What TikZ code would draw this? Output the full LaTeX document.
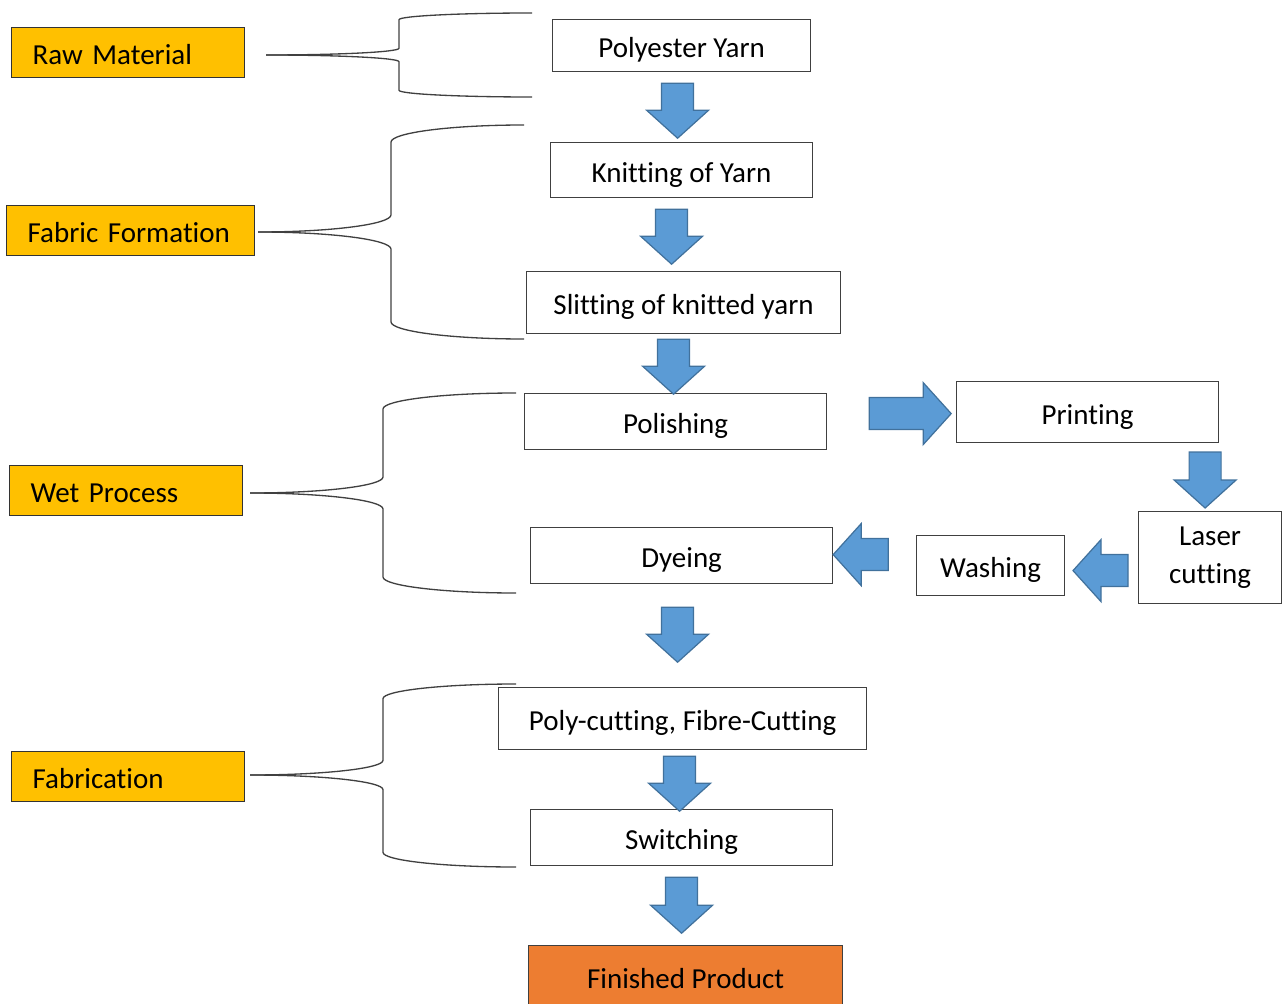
\documentclass[tikz,border=0pt]{standalone}
\usepackage{fontspec}
\setmainfont{Carlito}[Ligatures=CommonOff]
\usetikzlibrary{calc}

\definecolor{stageyellow}{HTML}{FFC000}
\definecolor{finalorange}{HTML}{ED7D31}
\definecolor{arrowblue}{HTML}{5B9BD5}
\definecolor{arrowedge}{HTML}{41719C}

\tikzset{
  oneline/.style={text height=0.48cm, text depth=0pt},
  stage/.style={draw=black!80, fill=stageyellow, line width=0.7pt, anchor=north west, oneline,
    minimum height=1cm, inner xsep=0.42cm, inner ysep=0pt, align=left, text width=#1},
  procbox/.style={draw=black!75, line width=0.7pt, anchor=north west, inner sep=0pt, align=center},
  blockarrow/.style={draw=arrowedge, fill=arrowblue, line width=0.7pt, line join=miter},
  bracket/.style={draw=black!75, line width=0.75pt},
}

% block arrow: #1 tail, #2 angle, #3 length
\newcommand{\barrow}[3]{%
  \draw[blockarrow, shift={#1}, rotate=#2] (0,-16) -- ({#3-28},-16) -- ({#3-28},-31) -- (#3,0)
    -- ({#3-28},31) -- ({#3-28},16) -- (0,16) -- cycle;}

% group bracket: #1 start x, #2 mid y, #3 spine x, #4 top y, #5 bottom y
\newcommand{\grpbrace}[5]{%
  \pgfmathsetmacro{\brh}{0.08*(#5-#4)}
  \draw[bracket] (#1,#2) .. controls ({#1+0.55*(#3-#1)},#2) and (#3,{#2-0.45*\brh}) .. (#3,{#2-\brh})
    -- (#3,{#4+\brh}) .. controls (#3,{#4+0.45*\brh}) and ({#3+60},#4) .. ({#3+133},#4);
  \draw[bracket] (#1,#2) .. controls ({#1+0.55*(#3-#1)},#2) and (#3,{#2+0.45*\brh}) .. (#3,{#2+\brh})
    -- (#3,{#5-\brh}) .. controls (#3,{#5-0.45*\brh}) and ({#3+60},#5) .. ({#3+133},#5);}

\begin{document}
\begin{tikzpicture}[x=0.02cm, y=-0.02cm, font=\fontsize{16.5}{21.5}\selectfont]
    \useasboundingbox (0,0) rectangle (1283,1003);

    % Stages
    \node[stage=3.82cm] (raw) at (11,27) {Raw Material};
    \node[stage=4.12cm] (fabric) at (6,205) {Fabric Formation};
    \node[stage=3.82cm] (wet) at (9,465) {Wet Process};
    \node[stage=3.82cm] (fabr) at (11,751) {Fabrication};

    % Brackets
    \grpbrace{266}{55}{399}{13}{97}
    \grpbrace{258}{232}{391}{125}{339}
    \grpbrace{250}{493}{383}{393}{593}
    \grpbrace{250}{775}{383}{684}{867}

    % Process steps
    \node[procbox, oneline, minimum width=5.16cm, minimum height=1.04cm] (yarn) at (552,19) {Polyester Yarn};
    \node[procbox, oneline, minimum width=5.24cm, minimum height=1.10cm] (knit) at (550,142) {Knitting of Yarn};
    \node[procbox, oneline, minimum width=6.28cm, minimum height=1.24cm] (slit) at (526,271) {Slitting of knitted yarn};
    \node[procbox, oneline, minimum width=6.04cm, minimum height=1.12cm] (polish) at (524,393) {Polishing};
    \node[procbox, oneline, minimum width=5.24cm, minimum height=1.22cm] (print) at (956,381) {Printing};
    \node[procbox, minimum width=2.86cm, minimum height=1.84cm] (laser) at (1138,511) {Laser\\cutting};
    \node[procbox, oneline, minimum width=2.96cm, minimum height=1.20cm] (wash) at (916,535) {Washing};
    \node[procbox, oneline, minimum width=6.04cm, minimum height=1.12cm] (dye) at (530,527) {Dyeing};
    \node[procbox, oneline, minimum width=7.36cm, minimum height=1.24cm] (cut) at (498,687) {Poly-cutting, Fibre-Cutting};
    \node[procbox, oneline, minimum width=6.04cm, minimum height=1.12cm] (switching) at (530,809) {Switching};
    \node[procbox, oneline, fill=finalorange, minimum width=6.28cm, minimum height=1.24cm] (final) at (528,945) {Finished Product};

    % Arrows
    \barrow{($(yarn.south)+(-4,11)$)}{-90}{55}
    \barrow{($(knit.south)+(-10,11)$)}{-90}{55}
    \barrow{($(slit.south)+(-10,5)$)}{-90}{55}
    \barrow{($(polish.east)+(42,-8)$)}{0}{82}
    \barrow{($(laser.north)+(-5,-59)$)}{-90}{56}
    \barrow{($(laser.west)+(-10,13)$)}{180}{55}
    \barrow{($(dye.east)+(55,-1)$)}{180}{55}
    \barrow{($(dye.south)+(-4,23)$)}{-90}{55}
    \barrow{($(cut.south)+(-3,6)$)}{-90}{55}
    \barrow{($(switching.south)+(0,11)$)}{-90}{56}
\end{tikzpicture}
\end{document}
